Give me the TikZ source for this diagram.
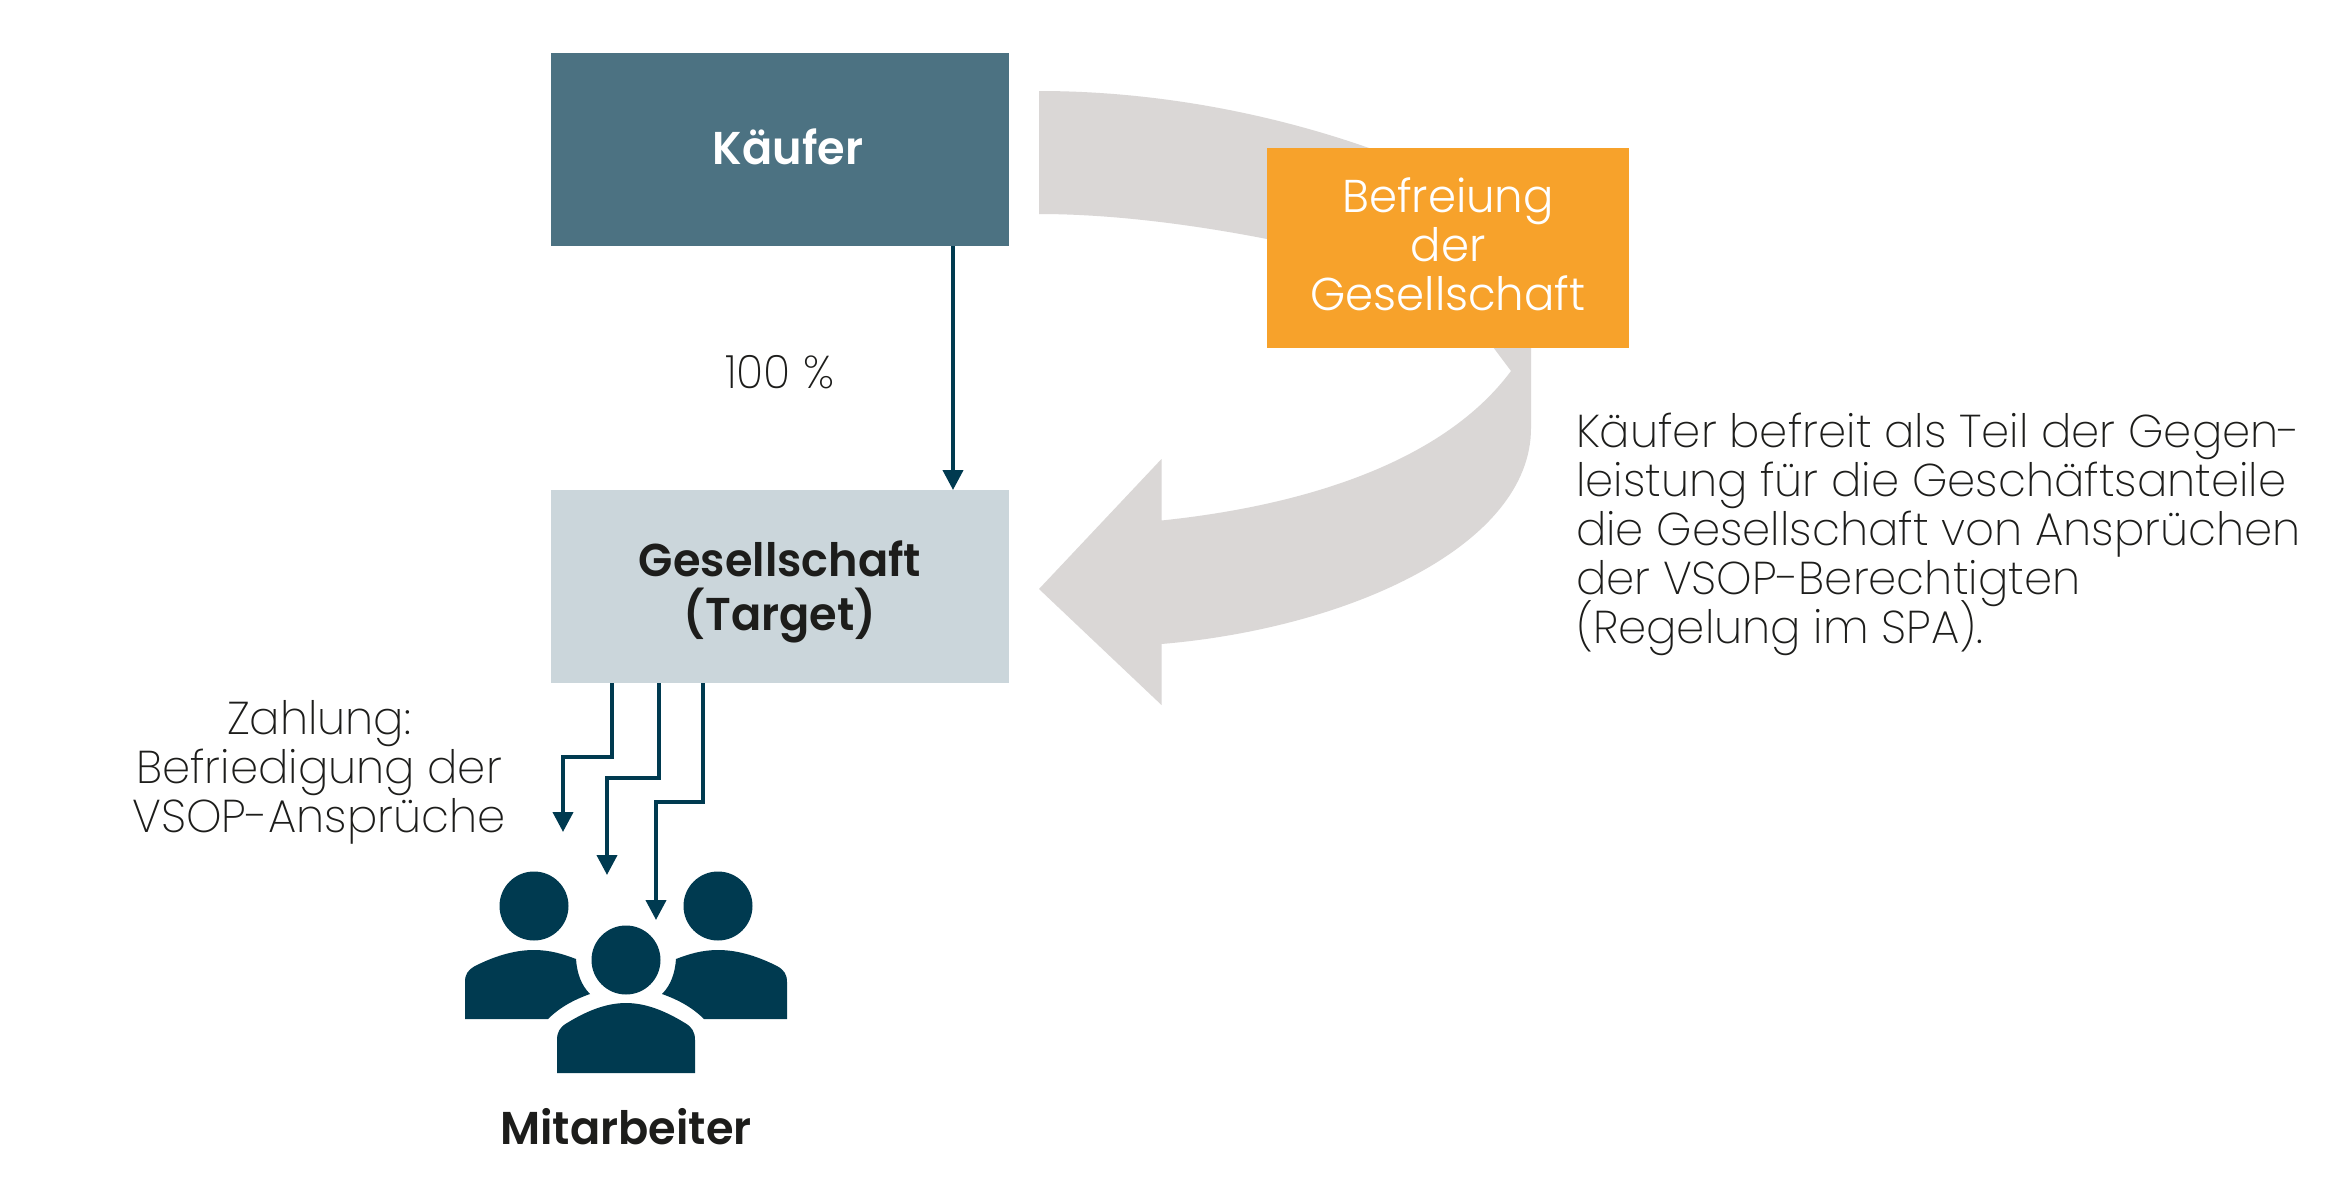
\documentclass[tikz,border=0pt]{standalone}
\usepackage{fontspec}
\setmainfont{Poppins}
\newfontfamily\lightf[FakeStretch=0.98]{Poppins ExtraLight}
\newfontfamily\whitef[FakeStretch=0.98]{Poppins Light}
\newfontfamily\medf[FakeStretch=0.97]{Poppins SemiBold}
\usetikzlibrary{arrows.meta}
\lineskiplimit=-50pt
\normallineskiplimit=-50pt
\definecolor{navy}{HTML}{003A50}
\definecolor{kaeufer}{HTML}{4C7282}
\definecolor{target}{HTML}{CBD6DB}
\definecolor{orangebox}{HTML}{F7A22B}
\definecolor{greyarrow}{HTML}{DAD7D6}
\definecolor{ink}{HTML}{1D1D1B}
\tikzset{
  box/.style={inner sep=0pt,outer sep=0pt,minimum width=458pt,minimum height=193pt,align=center},
  flow/.style={draw=navy,line width=4pt,-{Triangle[length=20pt,width=20pt]}},
  thin text/.style={font=\fontsize{46}{49}\selectfont\lightf,text=ink,inner sep=0pt,outer sep=0pt},
  white text/.style={font=\fontsize{46}{49}\selectfont\whitef,text=white,inner sep=0pt,outer sep=0pt,align=center},
  strong text/.style={font=\fontsize{46}{54}\selectfont\medf,text=ink,inner sep=0pt,outer sep=0pt,align=center},
}
\begin{document}
\begin{tikzpicture}[x=1pt,y=-1pt]
\useasboundingbox (0,0) rectangle (2338,1178);
\fill[white] (0,0) rectangle (2338,1178);
% big grey arrow
\fill[greyarrow] (1039,91) .. controls (1160,91) and (1275,115) .. (1369,148)
  -- (1531,300) -- (1531,428)
  .. controls (1531,545) and (1350,628) .. (1161.5,644)
  -- (1161.5,705) -- (1039,589) -- (1161.5,459) -- (1161.5,520.5)
  .. controls (1310,505) and (1445,460) .. (1511,371)
  -- (1493,347) -- (1400,290) -- (1267,239)
  .. controls (1190,224) and (1110,214) .. (1039,214) -- cycle;
\node[box,fill=kaeufer] (kaeufer) at (780,149.5) {};
\node[box,fill=target] (target) at (780,586.5) {};
\node[inner sep=0pt,outer sep=0pt,minimum width=362pt,minimum height=200pt,fill=orangebox] (befreiung) at (1447.5,248) {};
\node[strong text,text=white] (kaeuferlabel) at (788,147) {Käufer};
\node[strong text] (targetlabel) at (780,591.5) {Gesellschaft\\(Target)};
\node[white text] (befreiunglabel) at (1448,244) {Befreiung\\der\\Gesellschaft};
\node[thin text] (hundert) at (780,372) {100 \%};
\node[thin text,align=center] (zahlung) at (319,772) {Zahlung:\\Befriedigung der\\VSOP-Ansprüche};
\node[thin text,align=left,anchor=west] (erlaeuterung) at (1576,534) {Käufer befreit als Teil der Gegen-\\leistung für die Geschäftsanteile\\die Gesellschaft von Ansprüchen\\der VSOP-Berechtigten\\(Regelung im SPA).};
\node[strong text] (mitarbeiter) at (626,1127) {Mitarbeiter};
% connectors
\coordinate (in) at (953,490);
\coordinate (a1) at (612,832);
\coordinate (a2) at (607,875);
\coordinate (a3) at (656,920);
\draw[flow] (953,246) -- (in);
\draw[flow] (612,683) -- (612,757) -- (563,757) -- (563,832);
\draw[flow] (659,683) -- (659,778) -- (607,778) -- (607,875);
\draw[flow] (703,683) -- (703,802) -- (656,802) -- (656,920);
% people
\fill[navy] (534,906) circle (34.5) (718,906) circle (34.5) (626,960) circle (34.5);
\fill[navy] (557,1073) -- (557,1040) .. controls (557,1032) and (560,1027) .. (567,1023)
  .. controls (585,1012) and (605,1003) .. (626,1003)
  .. controls (647,1003) and (667,1012) .. (685,1023)
  .. controls (692,1027) and (695,1032) .. (695,1040) -- (695,1073) -- cycle;
\fill[navy] (465,1019) -- (465,982) .. controls (465,974) and (468,970) .. (475,966)
  .. controls (493,957) and (513,950) .. (534,950)
  .. controls (550,950) and (563,954) .. (576,959)
  .. controls (577,973) and (581,985) .. (590,994)
  .. controls (573,1000) and (559,1008) .. (548,1019) -- cycle;
\fill[navy] (787,1019) -- (787,982) .. controls (787,974) and (784,970) .. (777,966)
  .. controls (759,957) and (739,950) .. (718,950)
  .. controls (702,950) and (689,954) .. (676,959)
  .. controls (675,973) and (671,985) .. (662,994)
  .. controls (679,1000) and (693,1008) .. (704,1019) -- cycle;
\end{tikzpicture}
\end{document}
